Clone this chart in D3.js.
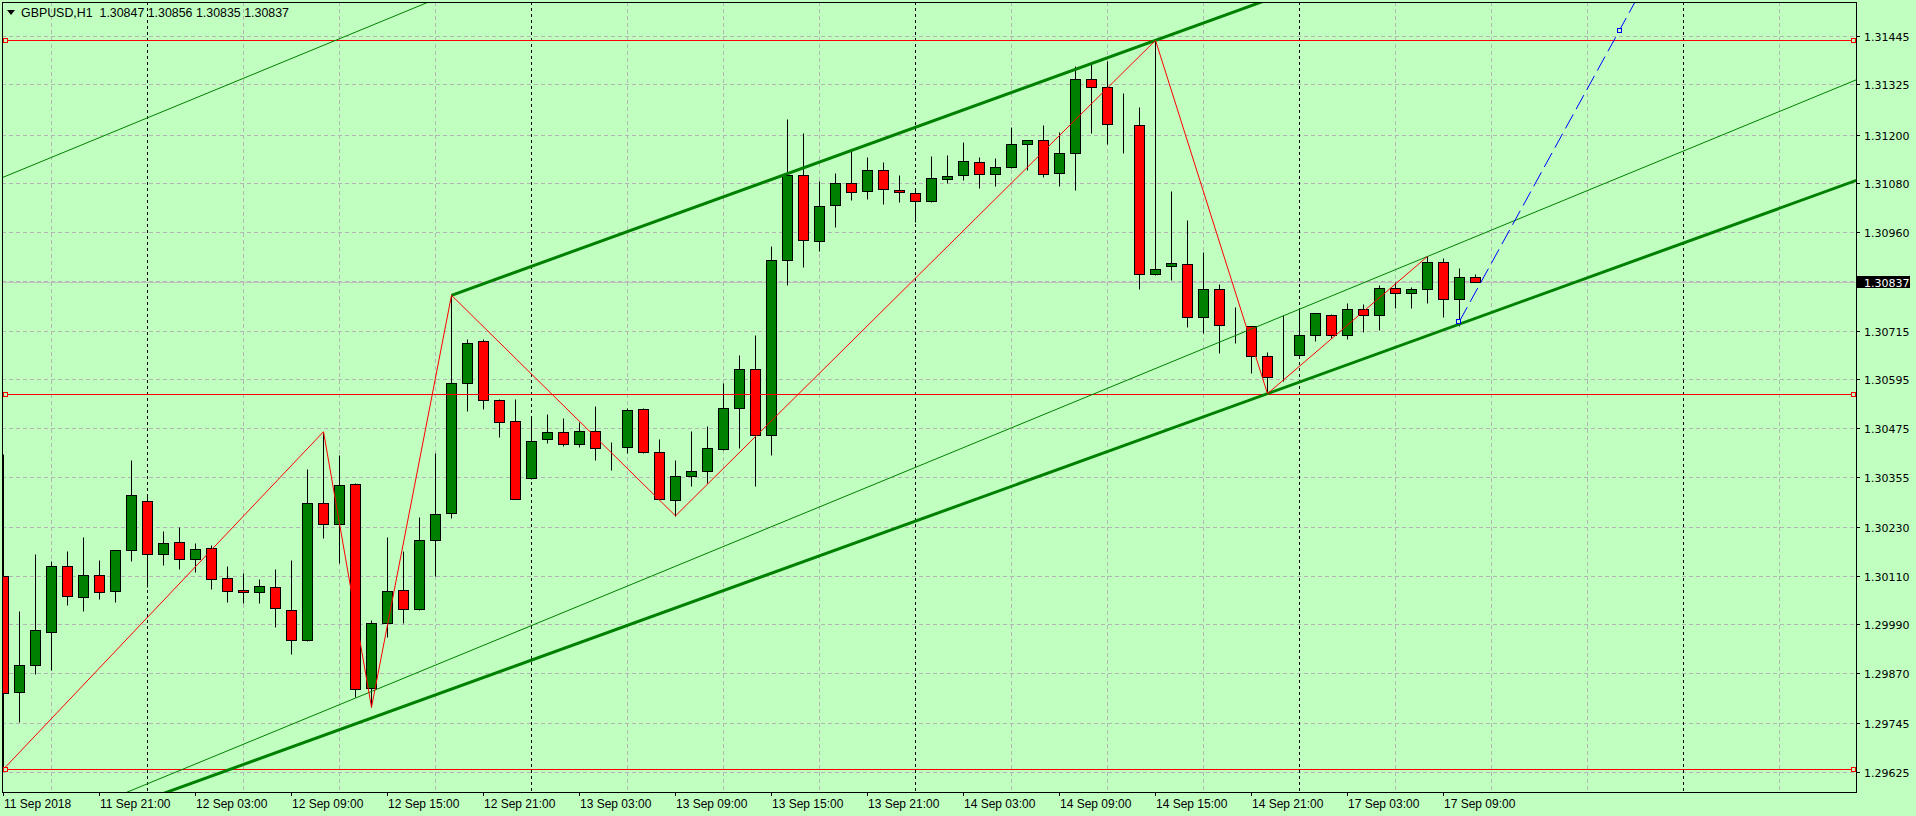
<!DOCTYPE html>
<html>

<head>
  <meta charset="UTF-8" />
  <title>GBPUSD,H1</title>
  <style>
    html,
    body {
      margin: 0;
      padding: 0;
      background: #c0ffc0;
      overflow: hidden;
    }

    svg {
      display: block;
    }
  </style>
  <script src="https://d3js.org/d3.v7.min.js"></script>
</head>

<body>
  <script>
    /* Chart data: H1 bars, 11 Sep 15:00 .. 17 Sep 11:00 */
    let symbol = "GBPUSD,H1";

    let opens = [
      1.30109, 1.29822, 1.29889, 1.29972, 1.30133, 1.30057, 1.30111, 1.30072, 1.30173, 1.30294,
      1.30163, 1.30193, 1.30151, 1.30178, 1.30104, 1.30074, 1.30069, 1.30081, 1.30025, 1.29951,
      1.30289, 1.30239, 1.30336, 1.29832, 1.29992, 1.30074, 1.30027, 1.30198, 1.30264, 1.30586,
      1.30689, 1.30544, 1.30492, 1.30351, 1.30447, 1.30464, 1.30435, 1.30467, 1.30427, 1.30427,
      1.30521, 1.30415, 1.30296, 1.30356, 1.30368, 1.30422, 1.30524, 1.30620, 1.30457, 1.30890,
      1.31100, 1.30936, 1.31025, 1.31080, 1.31060, 1.31112, 1.31062, 1.31055, 1.31035, 1.31090,
      1.31100, 1.31132, 1.31102, 1.31119, 1.31176, 1.31186, 1.31105, 1.31154, 1.31337, 1.31317,
      1.31226, 1.31223, 1.30855, 1.30875, 1.30880, 1.30749, 1.30818, 1.30728, 1.30728, 1.30652,
      1.30602, 1.30655, 1.30704, 1.30754, 1.30704, 1.30768, 1.30754, 1.30820, 1.30808, 1.30818,
      1.30885, 1.30793, 1.30847
    ];

    let highs = [
      1.30411, 1.30023, 1.30164, 1.30146, 1.30171, 1.30206, 1.30149, 1.30173, 1.30395, 1.30312,
      1.30220, 1.30230, 1.30190, 1.30185, 1.30133, 1.30116, 1.30101, 1.30126, 1.30148, 1.30373,
      1.30466, 1.30408, 1.30338, 1.30001, 1.30206, 1.30171, 1.30255, 1.30413, 1.30803, 1.30694,
      1.30694, 1.30546, 1.30546, 1.30504, 1.30509, 1.30501, 1.30489, 1.30529, 1.30440, 1.30524,
      1.30524, 1.30448, 1.30397, 1.30468, 1.30480, 1.30587, 1.30655, 1.30705, 1.30924, 1.31238,
      1.31203, 1.31085, 1.31105, 1.31159, 1.31144, 1.31132, 1.31100, 1.31063, 1.31146, 1.31149,
      1.31181, 1.31144, 1.31142, 1.31218, 1.31188, 1.31223, 1.31206, 1.31369, 1.31379, 1.31381,
      1.31302, 1.31268, 1.31433, 1.31060, 1.30988, 1.30909, 1.30830, 1.30773, 1.30728, 1.30662,
      1.30754, 1.30768, 1.30759, 1.30756, 1.30783, 1.30781, 1.30828, 1.30835, 1.30823, 1.30899,
      1.30894, 1.30870, 1.30856
    ];

    let lows = [
      1.29632, 1.29749, 1.29867, 1.29878, 1.30038, 1.30024, 1.30053, 1.30046, 1.30147, 1.30081,
      1.30137, 1.30127, 1.30120, 1.30076, 1.30046, 1.30043, 1.30042, 1.29983, 1.29916, 1.29949,
      1.30203, 1.30142, 1.29811, 1.29785, 1.29959, 1.29992, 1.30025, 1.30110, 1.30253, 1.30518,
      1.30523, 1.30454, 1.30299, 1.30349, 1.30439, 1.30431, 1.30427, 1.30397, 1.30372, 1.30414,
      1.30413, 1.30297, 1.30258, 1.30332, 1.30338, 1.30421, 1.30425, 1.30332, 1.30409, 1.30829,
      1.30874, 1.30913, 1.30973, 1.31038, 1.31040, 1.31028, 1.31033, 1.30983, 1.31034, 1.31080,
      1.31087, 1.31067, 1.31072, 1.31117, 1.31112, 1.31095, 1.31072, 1.31062, 1.31203, 1.31176,
      1.31154, 1.30818, 1.30853, 1.30840, 1.30725, 1.30711, 1.30661, 1.30686, 1.30612, 1.30560,
      1.30591, 1.30653, 1.30689, 1.30697, 1.30694, 1.30712, 1.30717, 1.30771, 1.30771, 1.30783,
      1.30749, 1.30726, 1.30835
    ];

    let closes = [
      1.29820, 1.29889, 1.29975, 1.30133, 1.30059, 1.30111, 1.30069, 1.30173, 1.30309, 1.30163,
      1.30190, 1.30151, 1.30175, 1.30101, 1.30072, 1.30069, 1.30084, 1.30030, 1.29951, 1.30289,
      1.30237, 1.30334, 1.29829, 1.29992, 1.30072, 1.30027, 1.30198, 1.30262, 1.30586, 1.30684,
      1.30544, 1.30489, 1.30299, 1.30442, 1.30464, 1.30435, 1.30467, 1.30425, 1.30427, 1.30519,
      1.30415, 1.30299, 1.30356, 1.30368, 1.30425, 1.30524, 1.30620, 1.30457, 1.30890, 1.31100,
      1.30939, 1.31023, 1.31080, 1.31058, 1.31112, 1.31065, 1.31058, 1.31035, 1.31092, 1.31097,
      1.31134, 1.31102, 1.31119, 1.31176, 1.31188, 1.31102, 1.31154, 1.31337, 1.31317, 1.31226,
      1.31226, 1.30855, 1.30867, 1.30882, 1.30749, 1.30818, 1.30729, 1.30728, 1.30652, 1.30600,
      1.30602, 1.30704, 1.30759, 1.30704, 1.30768, 1.30754, 1.30820, 1.30808, 1.30818, 1.30885,
      1.30793, 1.30847, 1.30837
    ];

    /* time labels, one every 6 bars starting at bar 0 */
    let timeLabels = [
      "11 Sep 2018", "11 Sep 21:00", "12 Sep 03:00", "12 Sep 09:00", "12 Sep 15:00", "12 Sep 21:00",
      "13 Sep 03:00", "13 Sep 09:00", "13 Sep 15:00", "13 Sep 21:00", "14 Sep 03:00", "14 Sep 09:00",
      "14 Sep 15:00", "14 Sep 21:00", "17 Sep 03:00", "17 Sep 09:00"
    ];
    let labelStep = 6;

    /* vertical grid every 6 bars, day separators at 00:00 */
    let gridBars = [3, 9, 15, 21, 27, 33, 39, 45, 51, 57, 63, 69, 75, 81, 87, 93, 99, 105, 111];
    let dayStarts = [9, 33, 57, 81, 105];

    let priceTicks = [
      "1.31445", "1.31325", "1.31200", "1.31080", "1.30960", "1.30838", "1.30715", "1.30595",
      "1.30475", "1.30355", "1.30230", "1.30110", "1.29990", "1.29870", "1.29745", "1.29625"
    ];

    /* objects */
    let levels = [1.31433, 1.30560, 1.29632];
    let zigzagBars = [0, 20, 23, 28, 42, 72, 79, 89];
    let zigzagSides = ["low", "high", "low", "high", "low", "high", "low", "high"];
    let thickChannel = [[28, 1.30803], [72, 1.31433], [79, 1.30560]];
    let thinChannel = [[23, 1.29824], [89, 1.30899], [0, 1.31095]];
    let blueRay = [[91, 1.30739], [101, 1.31458]];

    let width = 1916,
      height = 816,
      plot = { left: 2, top: 2, right: 1856, bottom: 792 },
      colors = {
        bg: "#c0ffc0",
        grid: "#b4b4b4",
        bull: "#008000",
        bear: "#ff0000",
        level: "#ff0000",
        channel: "#008000",
        ray: "#0000ff"
      },
      lastBar = closes.length - 1;

    let xScale = d3.scaleLinear().domain([0, lastBar]).range([3.5, 3.5 + 16 * lastBar]);
    let yScale = d3.scaleLinear().domain([1.29625, 1.31445]).range([772, 35.5]);
    let ry = v => Math.round(yScale(v)) + 0.5;

    let svg = d3.select("body")
      .append("svg")
      .attr("width", width)
      .attr("height", height);

    svg.append("rect")
      .attr("width", width)
      .attr("height", height)
      .attr("fill", colors.bg);

    svg.append("clipPath")
      .attr("id", "plot-clip")
      .append("rect")
      .attr("x", plot.left)
      .attr("y", plot.top)
      .attr("width", plot.right - plot.left)
      .attr("height", plot.bottom - plot.top);

    let chart = svg.append("g").attr("clip-path", "url(#plot-clip)");

    /* Grid */
    chart.append("g")
      .selectAll("line")
      .data(priceTicks)
      .enter()
      .append("line")
      .attr("x1", plot.left)
      .attr("x2", plot.right)
      .attr("y1", d => ry(+d))
      .attr("y2", d => ry(+d))
      .attr("stroke", colors.grid)
      .attr("stroke-dasharray", "4,3");

    chart.append("g")
      .selectAll("line")
      .data(gridBars)
      .enter()
      .append("line")
      .attr("x1", d => xScale(d))
      .attr("x2", d => xScale(d))
      .attr("y1", plot.top)
      .attr("y2", plot.bottom)
      .attr("stroke", d => dayStarts.includes(d) ? "#000" : colors.grid)
      .attr("stroke-dasharray", d => dayStarts.includes(d) ? "3,3" : "4,3");

    /* Bid line */
    chart.append("line")
      .attr("x1", plot.left)
      .attr("x2", plot.right)
      .attr("y1", ry(closes[lastBar]))
      .attr("y2", ry(closes[lastBar]))
      .attr("stroke", "#c0c0c0");

    /* Candles */
    let bars = chart.append("g")
      .selectAll("g")
      .data(d3.range(closes.length))
      .enter()
      .append("g");

    bars.append("line")
      .attr("x1", i => xScale(i))
      .attr("x2", i => xScale(i))
      .attr("y1", i => ry(highs[i]))
      .attr("y2", i => ry(lows[i]))
      .attr("stroke", "#000");

    bars.append("rect")
      .attr("x", i => xScale(i) - 5)
      .attr("width", 10)
      .attr("y", i => ry(Math.max(opens[i], closes[i])))
      .attr("height", i => Math.max(0, ry(Math.min(opens[i], closes[i])) - ry(Math.max(opens[i], closes[i]))))
      .attr("fill", i => closes[i] >= opens[i] ? colors.bull : colors.bear)
      .attr("stroke", "#000");

    /* Horizontal levels */
    chart.append("g")
      .selectAll("line")
      .data(levels)
      .enter()
      .append("line")
      .attr("x1", plot.left)
      .attr("x2", plot.right)
      .attr("y1", d => ry(d))
      .attr("y2", d => ry(d))
      .attr("stroke", colors.level);

    /* Channels */
    let line = d3.line().x(d => xScale(d[0])).y(d => yScale(d[1]));
    let priceAt = (a, b, bar) => a[1] + (b[1] - a[1]) * (bar - a[0]) / (b[0] - a[0]);
    let segment = (a, b, from, to, shift) => [
      [from, priceAt(a, b, from) + shift],
      [to, priceAt(a, b, to) + shift]
    ];

    let [t1, t2, t3] = thickChannel;
    let thickShift = t3[1] - priceAt(t1, t2, t3[0]);
    chart.append("path")
      .attr("d", line(segment(t1, t2, t1[0], 140, 0)))
      .attr("fill", "none")
      .attr("stroke", colors.channel)
      .attr("stroke-width", 3);
    chart.append("path")
      .attr("d", line(segment(t1, t2, -30, 140, thickShift)))
      .attr("fill", "none")
      .attr("stroke", colors.channel)
      .attr("stroke-width", 3);

    let [n1, n2, n3] = thinChannel;
    let thinShift = n3[1] - priceAt(n1, n2, n3[0]);
    [0, thinShift].forEach(shift => {
      chart.append("path")
        .attr("d", line(segment(n1, n2, -30, 140, shift)))
        .attr("fill", "none")
        .attr("stroke", colors.channel)
        .attr("stroke-width", 1);
    });

    /* ZigZag */
    chart.append("path")
      .attr("d", line(zigzagBars.map((b, k) => [b, zigzagSides[k] == "high" ? highs[b] : lows[b]])))
      .attr("fill", "none")
      .attr("stroke", colors.level)
      .attr("stroke-width", 1);

    /* Blue ray */
    chart.append("path")
      .attr("d", line(segment(blueRay[0], blueRay[1], blueRay[0][0], 110, 0)))
      .attr("fill", "none")
      .attr("stroke", colors.ray)
      .attr("stroke-dasharray", "16,6");

    /* Anchor markers */
    let markers = levels.map(d => [plot.left + 3.5, d, colors.level])
      .concat(levels.map(d => [plot.right - 2.5, d, colors.level]))
      .concat(blueRay.map(d => [xScale(d[0]), d[1], colors.ray]));

    chart.append("g")
      .selectAll("rect")
      .data(markers)
      .enter()
      .append("rect")
      .attr("x", d => Math.round(d[0]) - 2.5)
      .attr("y", d => ry(d[1]) - 2)
      .attr("width", 4)
      .attr("height", 4)
      .attr("fill", colors.bg)
      .attr("stroke", d => d[2]);

    /* Frame */
    svg.append("rect")
      .attr("x", plot.left + 0.5)
      .attr("y", plot.top + 0.5)
      .attr("width", plot.right - plot.left)
      .attr("height", plot.bottom - plot.top)
      .attr("fill", "none")
      .attr("stroke", "#000");

    /* Price axis */
    let priceAxis = svg.append("g")
      .style("font-family", "'DejaVu Sans', Verdana, sans-serif")
      .style("font-size", "11px");

    priceAxis.selectAll("line")
      .data(priceTicks)
      .enter()
      .append("line")
      .attr("x1", plot.right + 1)
      .attr("x2", plot.right + 4)
      .attr("y1", d => ry(+d))
      .attr("y2", d => ry(+d))
      .attr("stroke", "#000");

    priceAxis.selectAll("text")
      .data(priceTicks)
      .enter()
      .append("text")
      .attr("x", plot.right + 8)
      .attr("y", d => ry(+d) + 4)
      .attr("fill", "#000")
      .text(d => d);

    let bidY = ry(closes[lastBar]);
    priceAxis.append("rect")
      .attr("x", plot.right + 1)
      .attr("y", bidY - 6.5)
      .attr("width", 53)
      .attr("height", 12)
      .attr("fill", "#000");
    priceAxis.append("text")
      .attr("x", plot.right + 8)
      .attr("y", bidY + 4)
      .attr("fill", "#fff")
      .text(closes[lastBar].toFixed(5));

    /* Time axis */
    let timeAxis = svg.append("g")
      .style("font-family", "'Liberation Sans', Arial, sans-serif")
      .style("font-size", "12px");

    timeAxis.selectAll("line")
      .data(timeLabels)
      .enter()
      .append("line")
      .attr("x1", (d, k) => xScale(k * labelStep))
      .attr("x2", (d, k) => xScale(k * labelStep))
      .attr("y1", plot.bottom + 1)
      .attr("y2", plot.bottom + 4)
      .attr("stroke", "#000");

    timeAxis.selectAll("text")
      .data(timeLabels)
      .enter()
      .append("text")
      .attr("x", (d, k) => xScale(k * labelStep) + 0.5)
      .attr("y", 808)
      .attr("fill", "#000")
      .text(d => d);

    /* Header */
    svg.append("path")
      .attr("d", "M7,10 L15,10 L11,15 Z")
      .attr("fill", "#000");

    svg.append("text")
      .attr("x", 21)
      .attr("y", 17)
      .style("font-family", "'Liberation Sans', Arial, sans-serif")
      .style("font-size", "12.4px")
      .style("white-space", "pre")
      .attr("fill", "#000")
      .text(`${symbol}  ${[opens, highs, lows, closes].map(a => a[lastBar].toFixed(5)).join(" ")}`);
  </script>
</body>

</html>
